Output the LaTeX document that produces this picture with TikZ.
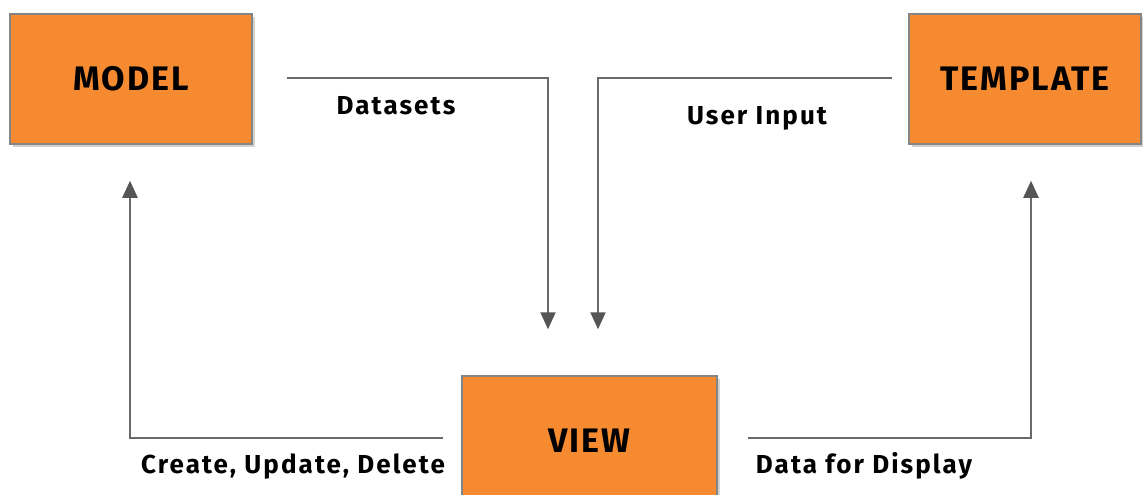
\documentclass[tikz,border=0pt]{standalone}
\usepackage{fontspec}
\setmainfont{Fira Sans}
\usetikzlibrary{arrows.meta,shadows}
\definecolor{boxorange}{HTML}{F68A30}
\definecolor{boxedge}{HTML}{858585}
\definecolor{linegray}{HTML}{6A6A6A}
\definecolor{tipgray}{HTML}{555555}
\newfontfamily\boxfont[LetterSpace=6]{Fira Sans}
\newfontfamily\lblfont[LetterSpace=8]{Fira Sans}
\tikzset{
  compbox/.style={draw=boxedge, line width=1.5pt, fill=boxorange, minimum height=130pt,
    font=\boxfont\fontsize{34}{40}\selectfont\bfseries, text=black,
    drop shadow={shadow xshift=3pt, shadow yshift=-3pt, opacity=0.35, fill=gray}},
  flow/.style={draw=linegray, line width=2.2pt,
    -{Triangle[width=15pt,length=17pt,fill=tipgray,color=tipgray]}},
  lbl/.style={font=\lblfont\fontsize{26}{30}\selectfont\bfseries, text=black, inner sep=0pt}
}
\begin{document}
\begin{tikzpicture}[x=1pt,y=-1pt]
\useasboundingbox (0,0) rectangle (1143,495);
\clip (0,0) rectangle (1143,495);
\fill[white] (0,0) rectangle (1143,495);
\node[compbox, minimum width=242pt] (model) at (131,79) {MODEL};
\node[compbox, minimum width=232pt] (template) at (1025,79) {TEMPLATE};
\node[compbox, minimum width=255pt] (view) at (589.5,441) {VIEW};
\draw[flow, shorten <=34pt, shorten >=46pt] ([yshift=1pt]model.east) -| ([xshift=-41.5pt]view.north);
\draw[flow, shorten <=16pt, shorten >=46pt] ([yshift=1pt]template.west) -| ([xshift=8.5pt]view.north);
\draw[flow, shorten <=18pt, shorten >=36pt] ([yshift=3pt]view.west) -| ([xshift=-1pt]model.south);
\draw[flow, shorten <=30pt, shorten >=36pt] ([yshift=3pt]view.east) -| ([xshift=6pt]template.south);
\node[lbl] (ds) at (396,106) {Datasets};
\node[lbl] (ui) at (757,118) {User Input};
\node[lbl] (cud) at (293,467) {Create, Update, Delete};
\node[lbl] (dfd) at (864,466) {Data for Display};
\end{tikzpicture}
\end{document}
